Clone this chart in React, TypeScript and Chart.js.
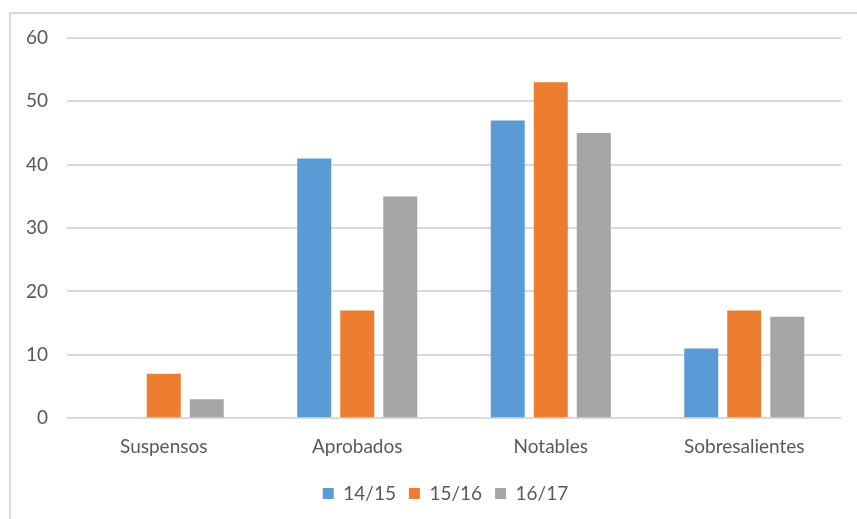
import React, { useEffect, useRef } from "react";
import { Chart, registerables } from "chart.js";

Chart.register(...registerables);

const categories = ["Suspensos", "Aprobados", "Notables", "Sobresalientes"];
const seriesNames = ["14/15", "15/16", "16/17"];
const values1415 = [0, 41, 47, 11];
const values1516 = [7, 17, 53, 17];
const values1617 = [3, 35, 45, 16];
const seriesColors = ["#5B9BD5", "#ED7D31", "#A5A5A5"];
const yMin = 0;
const yMax = 60;
const yStep = 10;

const FONT = "Lato, 'Open Sans', sans-serif";
const TEXT = "#595959";

const legendShift = {
  id: "legendShift",
  afterLayout(chart: any) {
    const lg = chart.legend;
    if (lg) {
      lg.left += 25;
      lg.right += 25;
      lg.top -= 4;
      lg.bottom -= 4;
    }
  },
};

export default function App() {
  const ref = useRef<HTMLCanvasElement | null>(null);

  useEffect(() => {
    if (!ref.current) return;
    const data = [values1415, values1516, values1617];
    const chart = new Chart(ref.current, {
      type: "bar",
      data: {
        labels: categories,
        datasets: seriesNames.map((name, i) => ({
          label: name,
          data: data[i],
          backgroundColor: seriesColors[i],
          borderWidth: 0,
          categoryPercentage: 0.667,
          barPercentage: 0.79,
        })),
      },
      plugins: [legendShift],
      options: {
        animation: false,
        responsive: false,
        maintainAspectRatio: false,
        layout: { padding: { top: 38, right: 16, left: 0, bottom: 2 } },
        plugins: {
          tooltip: { enabled: false },
          legend: {
            position: "bottom",
            labels: {
              font: { family: FONT, size: 19 },
              color: TEXT,
              boxWidth: 11,
              boxHeight: 11,
              padding: 13,
            },
          },
        },
        scales: {
          x: {
            grid: { display: false, drawTicks: false },
            border: { display: false },
            ticks: {
              font: { family: FONT, size: 19 },
              color: TEXT,
              padding: 17,
            },
          },
          y: {
            min: yMin,
            max: yMax,
            afterFit: (s: any) => {
              s.width = 67;
            },
            grid: { color: "#D9D9D9", lineWidth: 2, drawTicks: false },
            border: { display: false },
            ticks: {
              stepSize: yStep,
              font: { family: FONT, size: 19 },
              color: TEXT,
              padding: 19,
            },
          },
        },
      },
    });
    return () => chart.destroy();
  }, []);

  return (
    <div style={{ position: "fixed", left: 0, top: 0, width: 857, height: 519, background: "#fff" }}>
      <div
        style={{
          position: "absolute",
          left: 9,
          top: 12,
          width: 900,
          height: 600,
          borderLeft: "2px solid #D9D9D9",
          borderTop: "2px solid #D9D9D9",
          boxSizing: "border-box",
        }}
      />
      <canvas ref={ref} width={857} height={519} style={{ position: "absolute", left: 0, top: 0 }} />
    </div>
  );
}
